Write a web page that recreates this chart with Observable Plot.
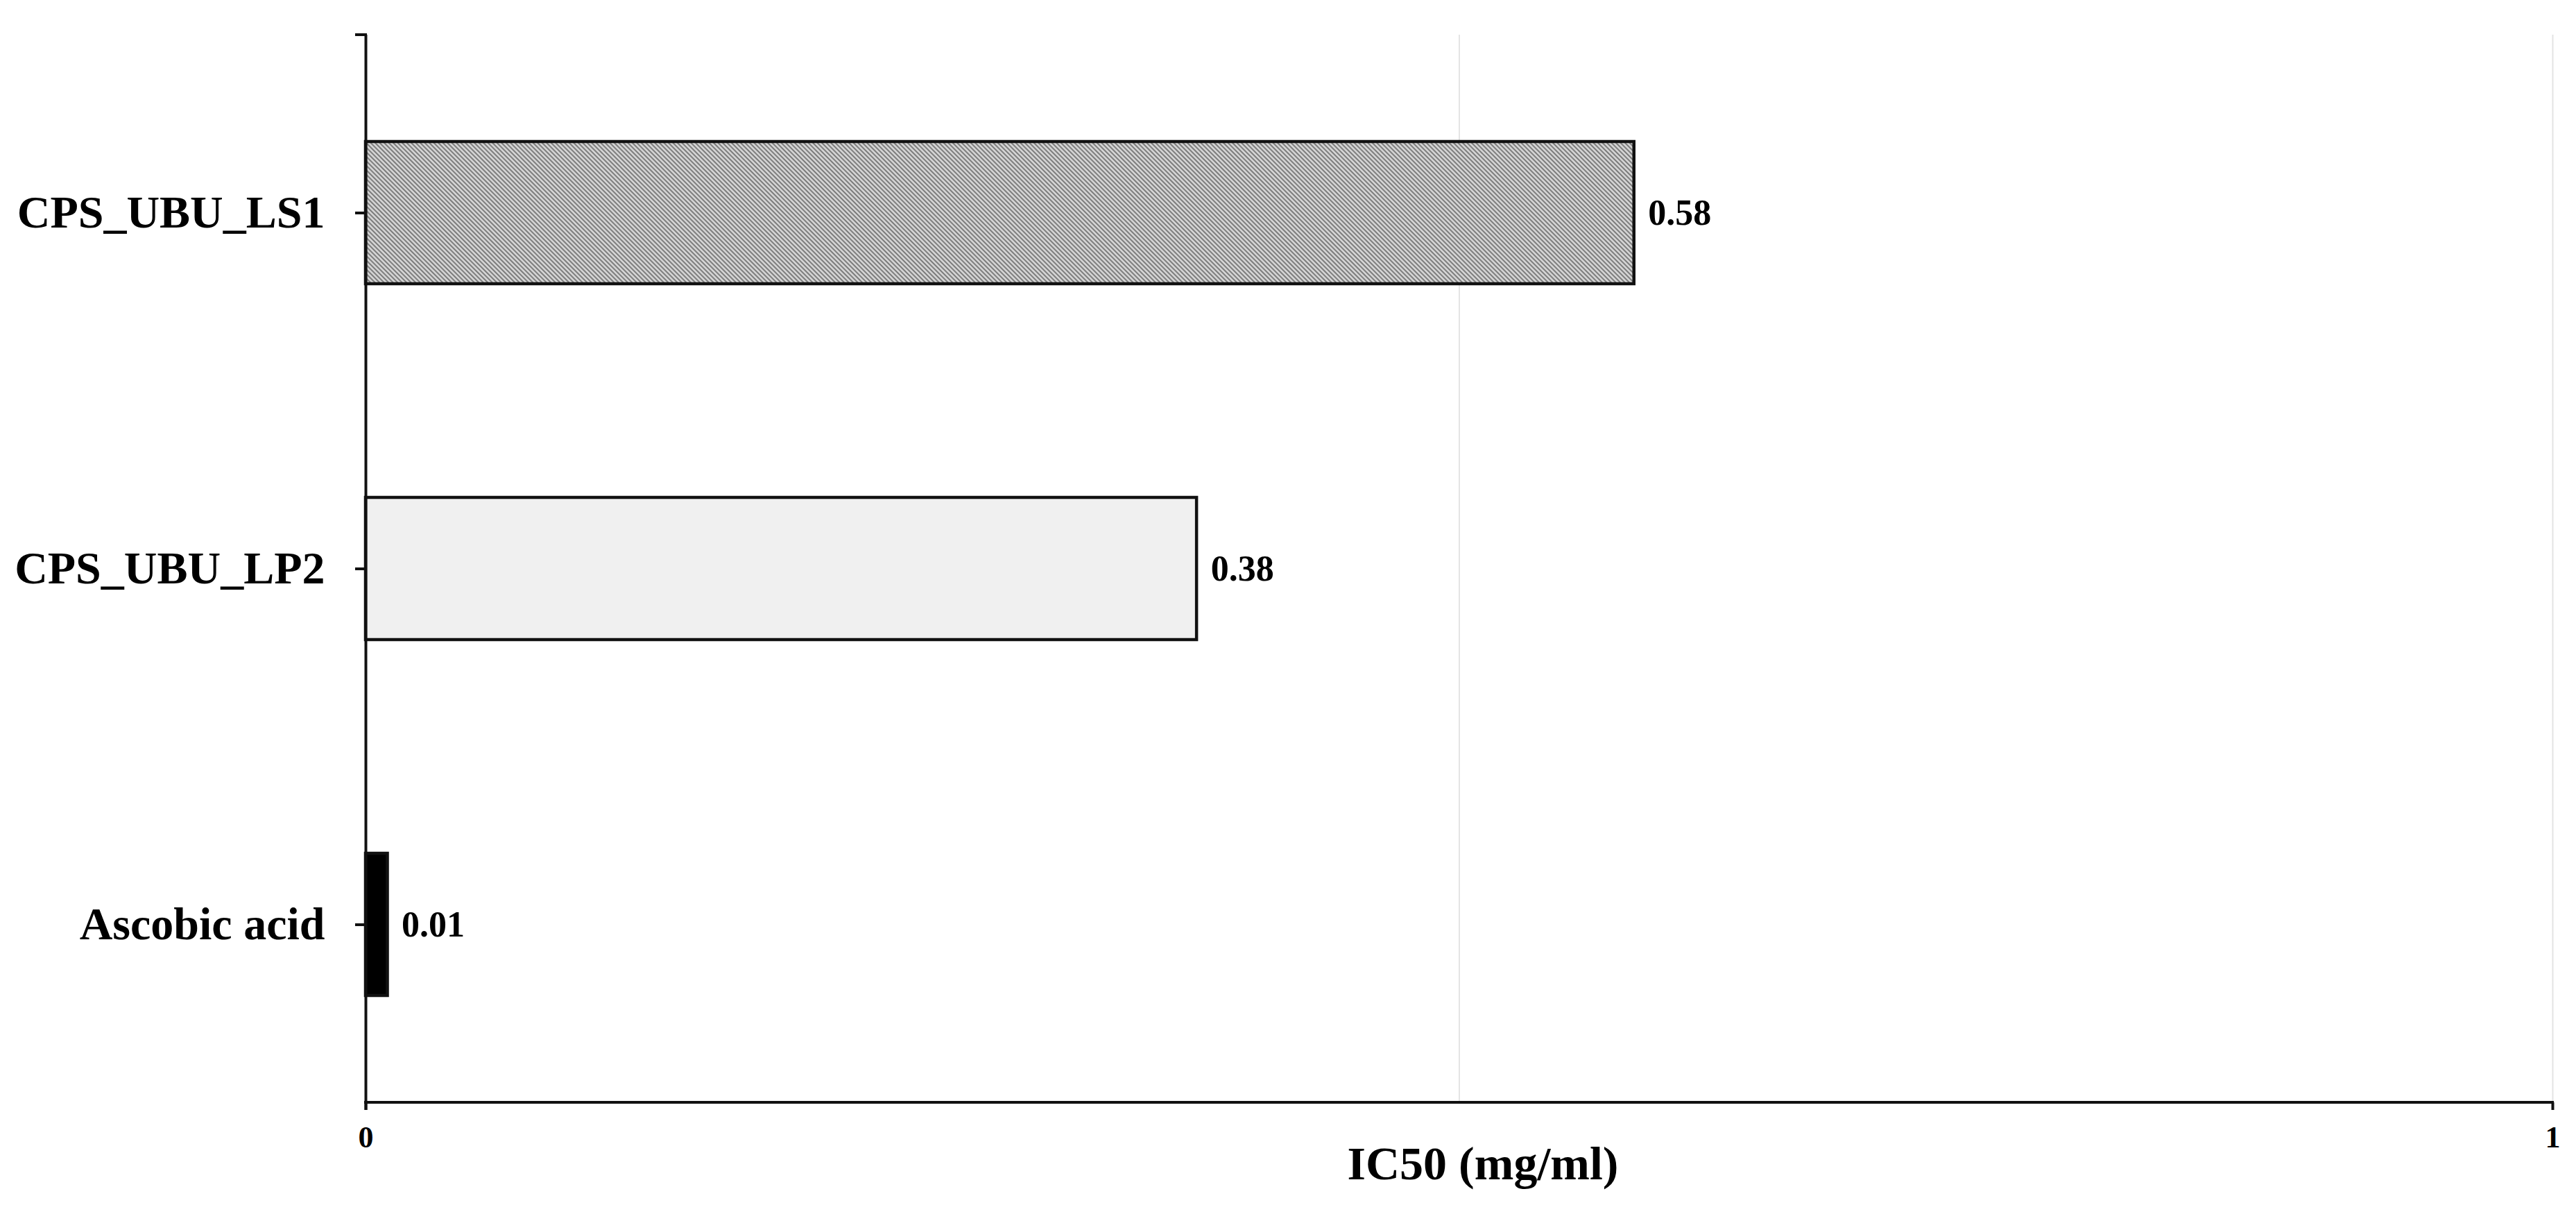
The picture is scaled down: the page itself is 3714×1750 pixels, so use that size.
<!DOCTYPE html>
<html>
<head>
<meta charset="utf-8">
<script src="https://cdn.jsdelivr.net/npm/d3@7"></script>
<script src="https://cdn.jsdelivr.net/npm/@observablehq/plot@0.6"></script>
<style>
  html, body { margin: 0; padding: 0; background: #ffffff; }
  #chart { width: 3714px; height: 1750px; }
</style>
</head>
<body>
<div id="chart"></div>
<script>
// ---- data ----
const categories = ["CPS_UBU_LS1", "CPS_UBU_LP2", "Ascobic acid"];
const values = [0.58, 0.38, 0.01];
const valueLabels = ["0.58", "0.38", "0.01"];
const xTickValues = [0, 1];
const xGridValues = [0.5, 1];
const xAxisLabel = "IC50 (mg/ml)";

// ---- styles ----
const barFill = {
  "CPS_UBU_LS1": "url(#hatchLS1)",
  "CPS_UBU_LP2": "#f0f0f0",
  "Ascobic acid": "#000000"
};
const FONT = "'Liberation Serif', 'Times New Roman', Times, serif";

const data = categories.map((c, i) => ({name: c, value: values[i], label: valueLabels[i]}));

const chart = Plot.plot({
  width: 3714,
  height: 1750,
  marginLeft: 527,
  marginRight: 34,
  marginTop: 50,
  marginBottom: 161,
  style: {fontFamily: FONT, background: "#ffffff", color: "#000000", overflow: "visible"},
  x: {domain: [0, 1], axis: null},
  y: {domain: categories, paddingInner: 0.6, paddingOuter: 0.3, axis: null},
  color: {type: "identity"},
  marks: [
    Plot.ruleX(xGridValues, {stroke: "#e4e4e4", strokeWidth: 2}),
    Plot.barX(data, {x: "value", y: "name", fill: d => barFill[d.name], stroke: "#111111", strokeWidth: 4.5}),
    Plot.text(data, {x: "value", y: "name", text: "label", textAnchor: "start", dx: 20,
      fontSize: 52, fontWeight: "bold", fill: "#000000"}),
    Plot.ruleX([0], {stroke: "#111111", strokeWidth: 4, insetBottom: -11}),
    Plot.axisY({tickSize: 15, tickPadding: 44, fontSize: 66, fontWeight: "bold",
      stroke: "#111111", strokeWidth: 4, fill: "#000000", label: null}),
    Plot.axisX({ticks: xTickValues, tickSize: 11, tickPadding: 22, fontSize: 44, fontWeight: "bold",
      tickFormat: d => String(d), stroke: "#111111", strokeWidth: 4, fill: "#000000", label: null}),
    Plot.text([xAxisLabel], {frameAnchor: "bottom", dx: 34, dy: 89, lineAnchor: "middle",
      fontSize: 68, fontWeight: "bold", fill: "#000000"})
  ]
});

document.getElementById("chart").appendChild(chart);

// ---- decorations: pattern, axis line, top tick ----
const svg = d3.select(chart);
const defs = svg.insert("defs", ":first-child");
const pat = defs.append("pattern")
  .attr("id", "hatchLS1")
  .attr("patternUnits", "userSpaceOnUse")
  .attr("width", 4.6).attr("height", 4.6)
  .attr("patternTransform", "rotate(45)");
pat.append("rect").attr("width", 4.6).attr("height", 4.6).attr("fill", "#dadada");
pat.append("line").attr("x1", 0).attr("x2", 4.6).attr("y1", 2.3).attr("y2", 2.3)
  .attr("stroke", "#6a6a6a").attr("stroke-width", 1.8);

const xs = chart.scale("x");
const ys = chart.scale("y");
const x0 = xs.apply(0), x1 = xs.apply(1);
const yTop = ys.range[0], yBottom = ys.range[1];
svg.append("line")
  .attr("x1", x0 - 2).attr("x2", x1 + 2).attr("y1", yBottom).attr("y2", yBottom)
  .attr("stroke", "#111111").attr("stroke-width", 4);
svg.append("line")
  .attr("x1", x0 - 15).attr("x2", x0 + 2).attr("y1", yTop).attr("y2", yTop)
  .attr("stroke", "#111111").attr("stroke-width", 4);
</script>
</body>
</html>
